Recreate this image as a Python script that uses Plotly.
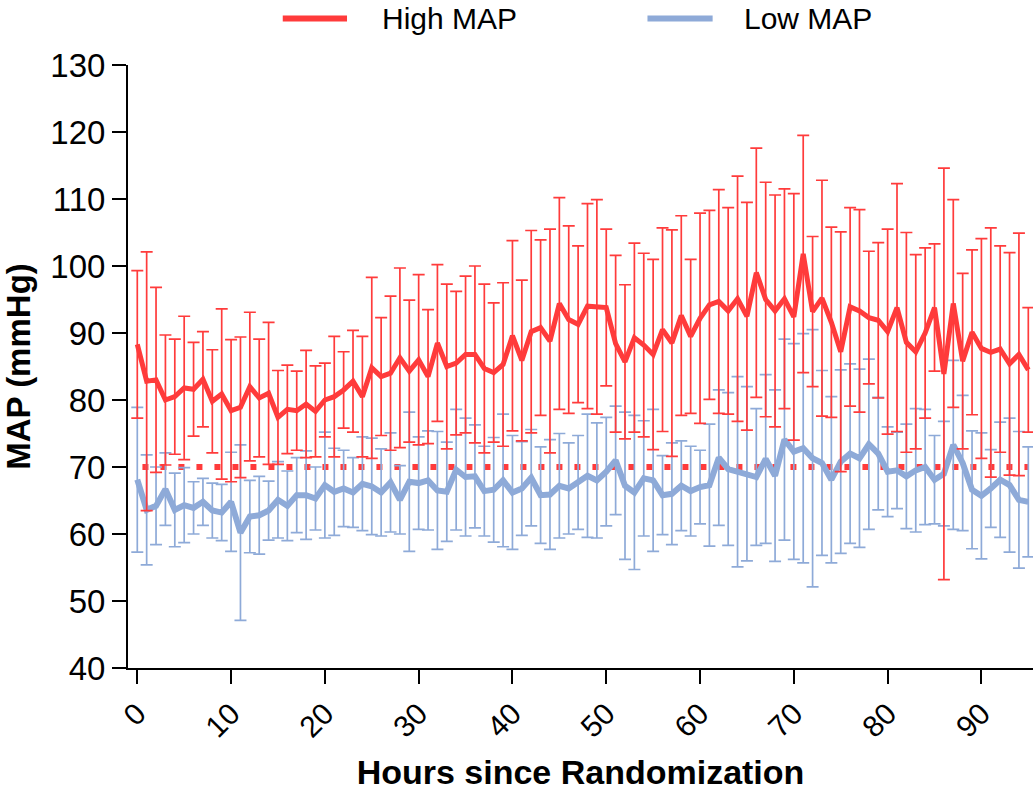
import plotly.graph_objects as go

hours = list(range(96))

high_mean = [88.3, 82.8, 83.0, 80.0, 80.5, 81.8, 81.6, 83.1, 79.8, 80.9,
             78.4, 78.9, 82.0, 80.3, 81.0, 77.4, 78.6, 78.4, 79.4, 78.3,
             80.0, 80.5, 81.5, 82.8, 80.5, 84.8, 83.5, 84.0, 86.3, 84.3,
             86.0, 83.5, 88.5, 85.0, 85.5, 86.8, 86.8, 84.7, 84.1, 85.3,
             89.6, 85.9, 90.2, 90.8, 88.8, 94.4, 92.0, 91.3, 94.0, 93.9,
             93.8, 88.4, 85.7, 89.3, 88.2, 86.8, 90.5, 88.5, 92.6, 89.5,
             92.2, 94.2, 94.7, 93.3, 95.1, 92.5, 99.0, 95.0, 93.3, 95.1,
             92.4, 101.8, 93.2, 95.2, 91.6, 87.2, 93.9, 93.3, 92.3, 91.9,
             90.2, 93.8, 88.6, 87.2, 90.0, 93.8, 83.9, 94.4, 85.8, 90.1,
             87.7, 87.1, 87.6, 85.4, 86.8, 84.5]

high_sd = [11.0, 19.3, 13.8, 9.7, 8.6, 10.7, 7.0, 7.1, 7.7, 12.7,
           10.6, 10.5, 11.1, 8.8, 10.6, 7.0, 6.6, 5.9, 8.0, 6.8,
           5.5, 9.0, 5.7, 7.6, 9.0, 13.5, 8.8, 11.5, 13.4, 10.6,
           12.7, 10.0, 11.7, 12.3, 10.7, 11.7, 13.2, 12.6, 10.4, 12.2,
           14.2, 12.0, 15.1, 13.1, 16.7, 15.8, 14.0, 11.7, 15.3, 16.0,
           11.7, 13.2, 11.5, 14.1, 13.7, 14.2, 15.2, 16.9, 14.9, 11.5,
           15.7, 14.1, 16.7, 15.4, 18.3, 17.0, 18.6, 17.5, 17.3, 16.4,
           18.4, 17.7, 11.2, 17.6, 14.2, 17.9, 14.8, 15.1, 9.9, 11.6,
           15.3, 18.5, 16.4, 14.5, 12.7, 9.5, 30.7, 15.5, 13.1, 12.3,
           16.4, 18.6, 15.4, 16.6, 18.1, 9.3]

low_mean = [68.1, 63.6, 64.2, 66.7, 63.6, 64.3, 63.9, 64.8, 63.5, 63.2,
            64.8, 60.2, 62.6, 62.8, 63.5, 65.1, 64.2, 65.8, 65.8, 65.3,
            67.3, 66.3, 66.8, 66.2, 67.5, 67.1, 66.2, 67.7, 65.1, 67.8,
            67.6, 68.0, 66.5, 66.3, 69.6, 68.5, 68.6, 66.4, 66.6, 68.0,
            66.2, 66.8, 68.4, 65.8, 65.9, 67.2, 66.8, 67.7, 68.7, 68.0,
            69.3, 71.0, 67.2, 66.2, 68.3, 68.0, 65.8, 66.0, 67.2, 66.4,
            67.0, 67.3, 71.4, 69.7, 69.3, 69.0, 68.5, 71.2, 68.7, 74.1,
            72.3, 72.8, 71.3, 70.6, 68.1, 70.8, 72.0, 71.3, 73.4, 72.0,
            69.3, 69.5, 68.6, 69.5, 70.0, 68.1, 69.0, 73.3, 70.6, 66.6,
            65.7, 66.8, 68.1, 67.3, 65.1, 64.8]

low_sd = [10.8, 8.2, 5.8, 5.4, 5.5, 5.6, 3.9, 3.5, 4.1, 4.2,
          7.4, 13.1, 5.4, 5.8, 4.4, 5.7, 5.2, 5.6, 6.6, 4.7,
          7.9, 6.5, 5.7, 5.2, 7.0, 7.2, 6.5, 7.4, 5.1, 10.4,
          6.9, 7.4, 8.8, 7.4, 9.0, 8.8, 7.7, 6.7, 7.8, 9.9,
          8.5, 7.0, 7.2, 7.2, 8.2, 7.8, 6.8, 7.0, 9.2, 8.6,
          8.1, 8.1, 11.0, 11.5, 8.6, 10.6, 5.9, 7.6, 6.7, 6.7,
          5.5, 9.1, 10.1, 11.4, 14.2, 13.0, 10.2, 12.6, 12.8, 15.0,
          16.1, 17.1, 19.2, 13.8, 12.4, 13.7, 13.4, 13.3, 12.7, 8.4,
          6.7, 5.7, 7.8, 9.2, 8.6, 6.6, 7.8, 12.6, 10.1, 8.8,
          9.4, 5.8, 8.6, 10.0, 10.2, 8.2]

target_map = 70
x_ticks = [0, 10, 20, 30, 40, 50, 60, 70, 80, 90]
y_ticks = [40, 50, 60, 70, 80, 90, 100, 110, 120, 130]
series_names = ["High MAP", "Low MAP"]

RED = "#FF3B3B"
BLUE = "#8EAAD8"
FONT = "Arial, Liberation Sans, sans-serif"

fig = go.Figure()

fig.add_trace(go.Scatter(
    x=hours, y=low_mean, mode="lines", name=series_names[1],
    line=dict(color=BLUE, width=6),
    error_y=dict(type="data", array=low_sd, symmetric=True,
                 color=BLUE, thickness=1.7, width=6),
    showlegend=False,
))
fig.add_trace(go.Scatter(
    x=hours, y=high_mean, mode="lines", name=series_names[0],
    line=dict(color=RED, width=5),
    error_y=dict(type="data", array=high_sd, symmetric=True,
                 color=RED, thickness=1.7, width=6),
    showlegend=False,
))

# dotted target line at MAP 70
fig.add_shape(type="line", xref="x", yref="y",
              x0=0.55, x1=hours[-1], y0=target_map, y1=target_map,
              line=dict(color=RED, width=6, dash="6px,12px"), layer="below")

# custom legend (long line samples as in the reference)
leg_y = 1.077
fig.add_shape(type="line", xref="paper", yref="paper",
              x0=0.171, x1=0.242, y0=leg_y, y1=leg_y,
              line=dict(color=RED, width=6))
fig.add_shape(type="line", xref="paper", yref="paper",
              x0=0.574, x1=0.646, y0=leg_y, y1=leg_y,
              line=dict(color=BLUE, width=6))
fig.add_annotation(xref="paper", yref="paper", x=0.279, y=leg_y,
                   text=series_names[0], showarrow=False, xanchor="left",
                   yanchor="middle", font=dict(size=30, color="black", family=FONT))
fig.add_annotation(xref="paper", yref="paper", x=0.679, y=leg_y,
                   text=series_names[1], showarrow=False, xanchor="left",
                   yanchor="middle", font=dict(size=30, color="black", family=FONT))

fig.update_layout(
    width=1033, height=791,
    margin=dict(l=128, r=0, t=65, b=123),
    plot_bgcolor="white", paper_bgcolor="white",
    font=dict(family=FONT, color="black"),
    showlegend=False,
)
fig.update_xaxes(
    range=[-0.99, 95.5], tickvals=x_ticks, ticktext=[str(v) for v in x_ticks],
    tickangle=-45, ticks="outside", ticklen=14, tickwidth=2, tickcolor="black",
    showline=True, linecolor="black", linewidth=2, showgrid=False, zeroline=False,
    tickfont=dict(size=30, family=FONT),
    title=dict(text="<b>Hours since Randomization</b>", font=dict(size=34, family=FONT), standoff=20),
)
fig.update_yaxes(
    range=[40, 130], tickvals=y_ticks, ticks="outside", ticklen=14, tickwidth=2,
    tickcolor="black", showline=True, linecolor="black", linewidth=2,
    showgrid=False, zeroline=False, tickfont=dict(size=33, family=FONT),
    title=dict(text="<b>MAP (mmHg)</b>", font=dict(size=33, family=FONT), standoff=12),
)

# remove the default page margin so the figure fills the window exactly
fig.write_html("out.html", config={"displayModeBar": False},
               post_script="document.body.style.margin='0';")
